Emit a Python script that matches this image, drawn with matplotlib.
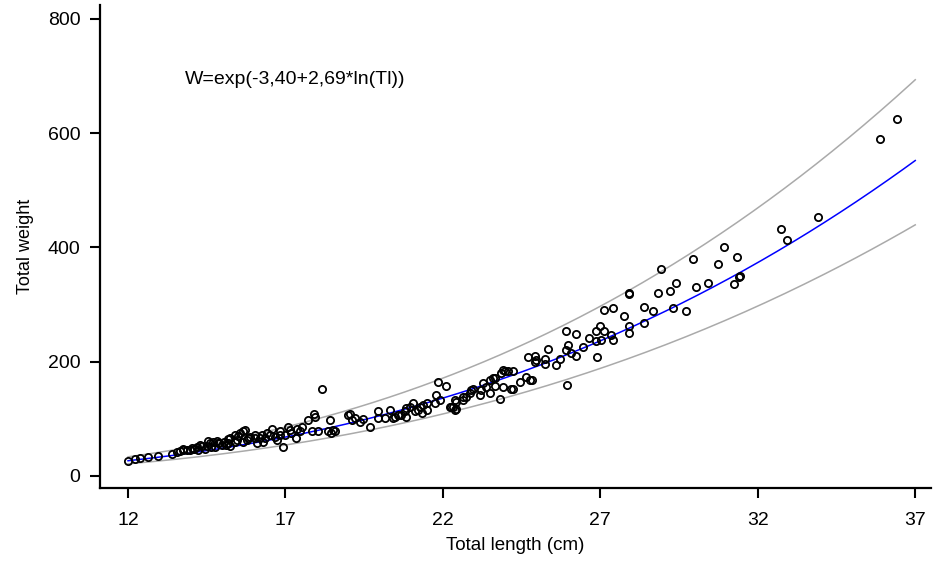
import numpy as np
import matplotlib
matplotlib.use("Agg")
import matplotlib.pyplot as plt

plt.rcParams["font.family"] = ["Liberation Sans", "DejaVu Sans"]

total_length = [
    12.0, 12.22, 12.38, 12.64, 12.96, 13.39, 13.55, 13.65, 13.75, 13.75, 13.86, 13.97,
    14.02, 14.1, 14.18, 14.23, 14.3, 14.34, 14.44, 14.5, 14.55, 14.6, 14.65, 14.71,
    14.76, 14.81, 14.87, 14.9, 14.97, 15.05, 15.1, 15.18, 15.18, 15.24, 15.24,
    15.39, 15.4, 15.45, 15.5, 15.55, 15.66, 15.66, 15.71, 15.77, 15.82, 15.87,
    16.03, 16.03, 16.08, 16.19, 16.24, 16.29, 16.35, 16.4, 16.5, 16.56, 16.66,
    16.72, 16.82, 16.82, 16.93, 16.98, 17.09, 17.14, 17.19, 17.35, 17.38, 17.46,
    17.51, 17.72, 17.85, 17.91, 17.93, 18.04, 18.15, 18.36, 18.41, 18.46, 18.51, 18.57,
    18.99, 19.04, 19.1, 19.2, 19.36, 19.47, 19.68, 19.94, 19.94, 20.15, 20.31,
    20.42, 20.47, 20.58, 20.68, 20.79, 20.84, 20.84, 20.95, 21.05, 21.11, 21.21,
    21.26, 21.32, 21.37, 21.48, 21.48, 21.74, 21.79, 21.84, 21.9, 22.11, 22.21,
    22.27, 22.32, 22.37, 22.37, 22.43, 22.43,
    22.64, 22.64, 22.74, 22.85, 22.9, 22.96, 23.17, 23.22, 23.27, 23.38, 23.48,
    23.48, 23.59, 23.64, 23.64, 23.8, 23.86, 23.91, 23.91, 23.96, 24.07, 24.17,
    24.22, 24.22, 24.44, 24.65, 24.7, 24.75, 24.84, 24.91, 24.91, 24.97, 25.23,
    25.23, 25.33, 25.6, 25.72, 25.92, 25.92, 25.95, 25.97, 26.08, 26.23, 26.23,
    26.45, 26.64, 26.85, 26.87, 26.9, 27.0, 27.03, 27.13, 27.13, 27.35, 27.4,
    27.4, 27.75, 27.9, 27.9, 27.9, 27.92, 28.4, 28.4, 28.67, 28.83, 28.93, 29.2,
    29.32, 29.41, 29.72, 29.94, 30.04, 30.43, 30.73, 30.94, 31.23, 31.34, 31.4,
    31.42, 32.74, 32.92, 33.92, 35.89, 36.41,
]
total_weight = [
    26, 30, 31, 33, 35, 39, 42, 44, 48, 45, 45, 46,
    49, 47, 50, 46, 55, 52, 48, 52, 61, 58, 50, 60,
    51, 61, 57, 58, 54, 60, 55, 65, 58, 66, 53,
    60, 72, 63, 70, 75, 78, 60, 80, 63, 66, 68,
    72, 66, 57, 66, 72, 60, 66, 75, 72, 83, 69,
    63, 72, 78, 51, 72, 86, 80, 75, 66, 83, 78,
    86, 98, 79, 108, 104, 78, 153, 78, 98, 75, 81, 78,
    107, 108, 98, 101, 95, 99, 86, 113, 101, 101, 116,
    101, 104, 107, 107, 113, 104, 119, 121, 127, 113, 116,
    121, 110, 124, 127, 116, 127, 142, 165, 133, 157, 121,
    121, 121, 116, 133, 118, 130,
    139, 133, 139, 145, 151, 153, 142, 151, 162, 156, 168,
    145, 171, 171, 158, 134, 180, 186, 156, 183, 183, 153,
    183, 153, 165, 174, 208, 168, 168, 210, 200, 203, 204,
    196, 222, 194, 204, 253, 220, 159, 229, 216, 249, 210,
    225, 241, 253, 236, 208, 263, 238, 253, 291, 247, 238,
    294, 280, 263, 251, 321, 318, 296, 268, 288, 321, 363, 324,
    294, 338, 288, 380, 330, 338, 371, 400, 336, 383, 348,
    350, 432, 413, 453, 589, 625,
]

# fitted model W = exp(a + b*ln(TL)) and the half width of the grey band (log scale)
intercept = -3.40
slope = 2.69
band = 0.228

fig = plt.figure(figsize=(9.33, 5.64), dpi=100)
ax = fig.add_axes([100 / 933, 76 / 564, 831 / 933, 483 / 564])

tl = np.linspace(12, 37, 200)
fit = np.exp(intercept + slope * np.log(tl))
ax.plot(tl, fit * np.exp(band), color="#aaaaaa", lw=1.1)
ax.plot(tl, fit * np.exp(-band), color="#aaaaaa", lw=1.1)
ax.plot(tl, fit, color="#0000ff", lw=1.1)

ax.plot(total_length, total_weight, "o", mfc="none", mec="black", ms=5.2, mew=1.3)

ax.text(13.81, 693, "W=exp(-3,40+2,69*ln(Tl))", fontsize=14, ha="left", va="center")

ax.set_xlim(11.11, 37.5)
ax.set_ylim(-21, 824)
ax.set_xticks([12, 17, 22, 27, 32, 37])
ax.set_yticks([0, 200, 400, 600, 800])

ax.spines["top"].set_visible(False)
ax.spines["right"].set_visible(False)
for s in ["left", "bottom"]:
    ax.spines[s].set_linewidth(1.6)
ax.tick_params(axis="both", direction="out", length=7, width=1.5, labelsize=14)
ax.tick_params(axis="x", pad=10)
ax.tick_params(axis="y", pad=7)

ax.set_xlabel("Total length (cm)", fontsize=13.5, labelpad=6)
ax.set_ylabel("Total weight", fontsize=13, labelpad=10)

fig.savefig("out.png", dpi=100)
